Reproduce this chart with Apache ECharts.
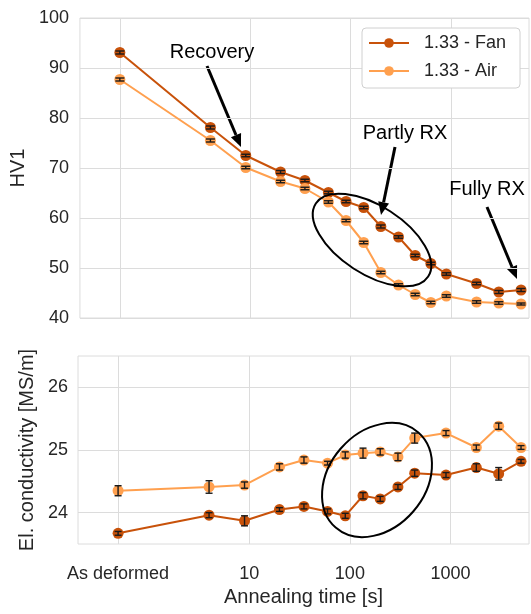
<!DOCTYPE html>
<html>
<head>
<meta charset="utf-8">
<script src="https://cdn.jsdelivr.net/npm/echarts@6/dist/echarts.min.js"></script>
<style>
html, body { margin: 0; padding: 0; background: #fff; }
#chart { width: 531px; height: 614px; }
</style>
</head>
<body>
<div id="chart"></div>
<script>
// annealing times [s], "As deformed" is put at 0.5 s
const times = [0.5, 4, 9, 20, 35, 60, 90, 135, 200, 300, 440, 630, 900, 1800, 3000, 5000]
const xTickValues = [0.5, 10, 100, 1000]
const xTickLabels = ['As deformed', '10', '100', '1000']

// hardness HV1
const hvFan = [93.1, 78.1, 72.5, 69.2, 67.5, 65.1, 63.3, 62.1, 58.3, 56.2, 52.5, 50.9, 48.8, 46.9, 45.2, 45.6]
const hvFanErr = [0.3, 0.3, 0.25, 0.3, 0.25, 0.25, 0.25, 0.25, 0.3, 0.25, 0.25, 0.25, 0.25, 0.25, 0.3, 0.3]
const hvAir = [87.7, 75.5, 70.1, 67.3, 65.9, 63.2, 59.5, 55.1, 49.1, 46.6, 44.7, 43.1, 44.4, 43.2, 43.0, 42.8]
const hvAirErr = [0.3, 0.3, 0.25, 0.25, 0.25, 0.25, 0.25, 0.25, 0.25, 0.25, 0.25, 0.25, 0.25, 0.25, 0.25, 0.2]

// electrical conductivity [MS/m], no measurement at 630 s
const condFan = [23.67, 23.96, 23.87, 24.05, 24.10, 24.02, 23.95, 24.27, 24.22, 24.41, 24.63, null, 24.60, 24.72, 24.62, 24.82]
const condFanErr = [0.03, 0.04, 0.08, 0.03, 0.04, 0.04, 0.04, 0.05, 0.04, 0.04, 0.05, null, 0.04, 0.06, 0.10, 0.03]
const condAir = [24.35, 24.41, 24.44, 24.73, 24.84, 24.79, 24.92, 24.95, 24.97, 24.89, 25.19, null, 25.27, 25.04, 25.38, 25.04]
const condAirErr = [0.08, 0.10, 0.05, 0.05, 0.05, 0.03, 0.05, 0.08, 0.05, 0.06, 0.08, null, 0.04, 0.04, 0.05, 0.03]
const condTicks = [24, 25, 26]

const FAN = '#c8520a'
const AIR = '#ffa04f'
const TEXT = '#262626'
const GRID = '#dcdcdc'
const FONT = '"Liberation Sans", Arial, sans-serif'

const chart = echarts.init(document.getElementById('chart'))

const pairs = (ys) => times.map((t, i) => [t, ys[i] == null ? '-' : ys[i]])

const lineSeries = (name, color, ys, idx) => ({
  name,
  type: 'line',
  xAxisIndex: idx,
  yAxisIndex: idx,
  data: pairs(ys),
  connectNulls: true,
  symbol: 'circle',
  symbolSize: 11,
  lineStyle: { color, width: 2 },
  itemStyle: { color },
  z: 3
})

const errorSeries = (ys, errs, idx, capHalf) => ({
  type: 'custom',
  xAxisIndex: idx,
  yAxisIndex: idx,
  silent: true,
  z: 6,
  data: times.map((t, i) => ys[i] == null ? null : [t, ys[i] - errs[i], ys[i] + errs[i]])
    .filter(d => d),
  encode: { x: 0, y: [1, 2] },
  renderItem: (params, api) => {
    const lo = api.coord([api.value(0), api.value(1)])
    const hi = api.coord([api.value(0), api.value(2)])
    const w = capHalf
    const st = { stroke: '#1a1a1a', lineWidth: 1.4 }
    return {
      type: 'group',
      children: [
        { type: 'line', shape: { x1: lo[0], y1: lo[1], x2: hi[0], y2: hi[1] }, style: st },
        { type: 'line', shape: { x1: lo[0] - w, y1: lo[1], x2: lo[0] + w, y2: lo[1] }, style: st },
        { type: 'line', shape: { x1: hi[0] - w, y1: hi[1], x2: hi[0] + w, y2: hi[1] }, style: st }
      ]
    }
  }
})

const xAxisBase = (idx) => ({
  type: 'log',
  gridIndex: idx,
  min: 0.2,
  max: 6000,
  axisLine: { show: false },
  axisTick: { show: false, customValues: xTickValues },
  splitLine: { show: true, lineStyle: { color: GRID, width: 1 } },
  axisLabel: {
    show: idx === 1,
    customValues: xTickValues,
    fontSize: 18,
    color: TEXT,
    margin: 21,
    formatter: (v) => {
      const k = xTickValues.findIndex(t => Math.abs(t - v) / t < 1e-6)
      return k >= 0 ? xTickLabels[k] : ''
    }
  }
})

// arrow made of a thick line and a filled head
function arrow (x1, y1, x2, y2) {
  const ang = Math.atan2(y2 - y1, x2 - x1)
  const len = 13
  const half = 5.5
  const bx = x2 - len * Math.cos(ang)
  const by = y2 - len * Math.sin(ang)
  const px = -Math.sin(ang) * half
  const py = Math.cos(ang) * half
  return [
    { type: 'line', shape: { x1, y1, x2: bx, y2: by }, style: { stroke: '#000', lineWidth: 3 } },
    { type: 'polygon', shape: { points: [[x2, y2], [bx + px, by + py], [bx - px, by - py]] }, style: { fill: '#000' } }
  ]
}

const label = (text, x, y) => ({
  type: 'text', x, y, z: 20,
  style: { text, fontSize: 20, fill: '#000', fontFamily: FONT, align: 'center', verticalAlign: 'middle' }
})

const ellipse = (x, y, rx, ry, deg) => ({
  type: 'ellipse', x, y, z: 20,
  rotation: deg * Math.PI / 180,
  shape: { cx: 0, cy: 0, rx, ry },
  style: { fill: null, stroke: '#000', lineWidth: 2 }
})

const option = {
  animation: false,
  backgroundColor: '#fff',
  textStyle: { fontFamily: FONT, color: TEXT },
  grid: [
    { left: 78, right: 2, top: 18, height: 300, show: true, borderColor: GRID, borderWidth: 1 },
    { left: 78, right: 2, top: 356, height: 188, show: true, borderColor: GRID, borderWidth: 1 }
  ],
  legend: {
    orient: 'vertical',
    left: 362,
    top: 28,
    data: ['1.33 - Fan', '1.33 - Air'],
    backgroundColor: '#fff',
    borderColor: '#d0d0d0',
    borderWidth: 1,
    borderRadius: 4,
    padding: [5, 14, 7, 6],
    itemWidth: 40,
    itemHeight: 12,
    itemGap: 8,
    textStyle: { fontSize: 18, color: TEXT, lineHeight: 20, padding: [0, 0, 0, 10] }
  },
  xAxis: [xAxisBase(0), Object.assign(xAxisBase(1), {
    name: 'Annealing time [s]',
    nameLocation: 'middle',
    nameGap: 43,
    nameTextStyle: { fontSize: 20, color: TEXT }
  })],
  yAxis: [
    {
      type: 'value',
      gridIndex: 0,
      min: 40,
      max: 100,
      interval: 10,
      name: 'HV1',
      nameLocation: 'middle',
      nameGap: 45,
      nameTextStyle: { fontSize: 20, color: TEXT },
      axisLine: { show: false },
      axisTick: { show: false },
      axisLabel: { fontSize: 18, color: TEXT, margin: 11 },
      splitLine: { lineStyle: { color: GRID } }
    },
    {
      type: 'value',
      gridIndex: 1,
      min: 23.5,
      max: 26.5,
      name: 'El. conductivity [MS/m]',
      nameLocation: 'middle',
      nameGap: 36,
      nameTextStyle: { fontSize: 20, color: TEXT },
      axisLine: { show: false },
      axisTick: { show: false, customValues: condTicks },
      axisLabel: { customValues: condTicks, fontSize: 18, color: TEXT, margin: 10 },
      splitLine: { lineStyle: { color: GRID } }
    }
  ],
  series: [
    lineSeries('1.33 - Fan', FAN, hvFan, 0),
    lineSeries('1.33 - Air', AIR, hvAir, 0),
    errorSeries(hvFan, hvFanErr, 0, 4.5),
    errorSeries(hvAir, hvAirErr, 0, 4.5),
    lineSeries('1.33 - Fan', FAN, condFan, 1),
    lineSeries('1.33 - Air', AIR, condAir, 1),
    errorSeries(condFan, condFanErr, 1, 3.5),
    errorSeries(condAir, condAirErr, 1, 3.5)
  ],
  graphic: {
    elements: [
      label('Recovery', 212, 52),
      ...arrow(207, 66, 241, 147),
      label('Partly RX', 405, 133),
      ...arrow(395, 147, 381, 215),
      label('Fully RX', 487, 189),
      ...arrow(487, 207, 517, 279),
      ellipse(372, 240, 67, 34, -33),
      ellipse(377, 480, 63, 48, 49)
    ]
  }
}

chart.setOption(option)
</script>
</body>
</html>
